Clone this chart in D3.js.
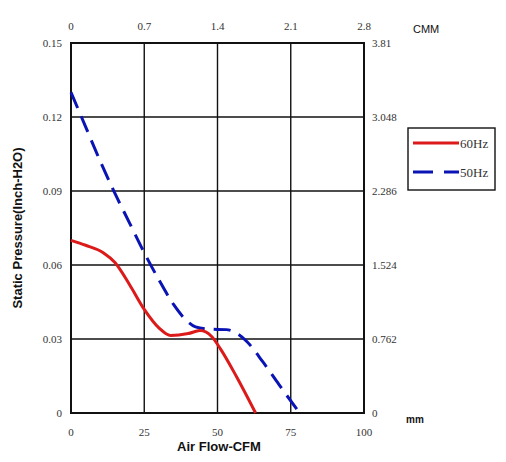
<!DOCTYPE html>
<html>
<head>
  <style>
    body { margin: 0; background: #fff; }
    .tick-lbl { font-family: "Liberation Serif", serif; font-size: 11px; fill: #333; }
    .bold-lbl { font-family: "Liberation Sans", Arial, sans-serif; font-weight: bold; fill: #111; }
  </style>
  <script src="https://d3js.org/d3.v7.min.js"></script>
</head>
<body>
<svg id="chart" width="506" height="462"></svg>
<script>
  // data
  const cfmTicks = [0, 25, 50, 75, 100];
  const cmmTicks = ["0", "0.7", "1.4", "2.1", "2.8"];
  const inchTicks = [0, 0.03, 0.06, 0.09, 0.12, 0.15];
  const mmTicks = ["0", "0.762", "1.524", "2.286", "3.048", "3.81"];

  const hz60 = [[0, 0.070], [5, 0.068], [11, 0.065], [15, 0.061], [20, 0.052], [25, 0.042],
    [30, 0.0345], [34, 0.0314], [40, 0.0322], [44, 0.0334], [48, 0.031], [51, 0.026], [56.5, 0.0147], [63, 0]];
  const hz50 = [[0, 0.130], [5, 0.116], [10, 0.102], [15, 0.089], [20, 0.077], [25, 0.065],
    [30, 0.054], [35, 0.044], [39, 0.038], [42.5, 0.0349], [47, 0.034], [53, 0.0338], [57, 0.032],
    [60, 0.029], [65.5, 0.0207], [71, 0.0115], [78, 0]];

  const svg = d3.select("#chart");
  const pl = 71, pr = 364, pt = 43, pb = 413;

  const x = d3.scaleLinear().domain([0, 100]).range([pl, pr]);
  const y = d3.scaleLinear().domain([0, 0.15]).range([pb, pt]);

  // grid
  const grid = svg.append("g").attr("stroke", "#111").attr("stroke-width", 1.4);
  grid.selectAll("line.v").data(cfmTicks.slice(1, -1)).enter().append("line")
    .attr("x1", d => x(d)).attr("x2", d => x(d)).attr("y1", pt).attr("y2", pb);
  grid.selectAll("line.h").data(inchTicks.slice(1, -1)).enter().append("line")
    .attr("x1", pl).attr("x2", pr).attr("y1", d => y(d)).attr("y2", d => y(d));
  svg.append("rect").attr("x", pl).attr("y", pt).attr("width", pr - pl).attr("height", pb - pt)
    .attr("fill", "none").attr("stroke", "#111").attr("stroke-width", 2);

  // tick labels
  svg.selectAll("text.bx").data(cfmTicks).enter().append("text").attr("class", "tick-lbl")
    .attr("x", d => x(d)).attr("y", 436).attr("text-anchor", "middle").text(d => d);
  svg.selectAll("text.tx").data(cmmTicks).enter().append("text").attr("class", "tick-lbl")
    .attr("x", (d, i) => x(cfmTicks[i])).attr("y", 30).attr("text-anchor", "middle").text(d => d);
  svg.selectAll("text.ly").data(inchTicks).enter().append("text").attr("class", "tick-lbl")
    .attr("x", 62).attr("y", d => y(d) + 4).attr("text-anchor", "end").text(d => d === 0 ? "0" : d.toFixed(2));
  svg.selectAll("text.ry").data(mmTicks).enter().append("text").attr("class", "tick-lbl")
    .attr("x", 372).attr("y", (d, i) => y(inchTicks[i]) + 4).attr("text-anchor", "start").text(d => d);

  svg.append("text").attr("x", 413).attr("y", 33).style("font-family", "Liberation Sans, Arial, sans-serif")
    .style("font-size", "11px").attr("fill", "#111").text("CMM");
  svg.append("text").attr("class", "bold-lbl").attr("x", 406).attr("y", 423).style("font-size", "10px").text("mm");
  svg.append("text").attr("class", "bold-lbl").attr("x", 219).attr("y", 451).attr("text-anchor", "middle")
    .style("font-size", "13px").text("Air Flow-CFM");
  svg.append("text").attr("class", "bold-lbl").attr("transform", "translate(22," + (pt + pb) / 2 + ") rotate(-90)")
    .attr("text-anchor", "middle").style("font-size", "13px").text("Static Pressure(Inch-H2O)");

  // curves
  const line = d3.line().x(d => x(d[0])).y(d => y(d[1])).curve(d3.curveMonotoneX);
  svg.append("path").attr("d", line(hz50)).attr("fill", "none").attr("stroke", "#0a14b4")
    .attr("stroke-width", 3).attr("stroke-dasharray", "17,9");
  svg.append("path").attr("d", line(hz60)).attr("fill", "none").attr("stroke", "#dc1a1a")
    .attr("stroke-width", 3);

  // legend
  const lg = svg.append("g");
  lg.append("rect").attr("x", 408).attr("y", 128).attr("width", 87).attr("height", 62)
    .attr("fill", "#fff").attr("stroke", "#111").attr("stroke-width", 1.4);
  const legendItems = [{ name: "60Hz", color: "#dc1a1a", dash: null }, { name: "50Hz", color: "#0a14b4", dash: "20,11" }];
  legendItems.forEach((d, i) => {
    const ly = 143 + i * 29;
    lg.append("line").attr("x1", 413).attr("x2", 459).attr("y1", ly).attr("y2", ly)
      .attr("stroke", d.color).attr("stroke-width", 3).attr("stroke-dasharray", d.dash);
    lg.append("text").attr("class", "tick-lbl").style("font-size", "13px").attr("x", 460).attr("y", ly + 5).text(d.name);
  });
</script>
</body>
</html>
